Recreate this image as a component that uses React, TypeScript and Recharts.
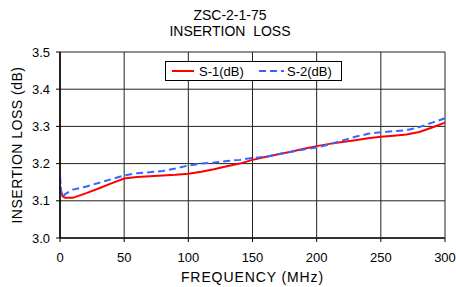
import { LineChart, Line, XAxis, YAxis, CartesianGrid, Label } from "recharts";

const frequency = [0, 1, 2, 4, 10, 20, 30, 40, 50, 60, 70, 80, 90, 100, 110, 120, 130, 140, 150, 160, 170, 180, 190, 200, 210, 220, 230, 240, 250, 260, 270, 280, 290, 300];
const s1 = [3.14, 3.125, 3.112, 3.108, 3.108, 3.12, 3.133, 3.147, 3.16, 3.164, 3.166, 3.168, 3.17, 3.173, 3.178, 3.185, 3.193, 3.2, 3.21, 3.218, 3.225, 3.232, 3.24, 3.247, 3.253, 3.258, 3.263, 3.268, 3.272, 3.275, 3.278, 3.285, 3.297, 3.31];
const s2 = [3.165, 3.12, 3.11, 3.118, 3.13, 3.138, 3.148, 3.158, 3.168, 3.174, 3.177, 3.18, 3.187, 3.195, 3.2, 3.203, 3.207, 3.21, 3.215, 3.218, 3.225, 3.232, 3.238, 3.243, 3.252, 3.262, 3.272, 3.28, 3.284, 3.287, 3.29, 3.298, 3.31, 3.322];
const xTicks = [0, 50, 100, 150, 200, 250, 300];
const yTicks = [3.0, 3.1, 3.2, 3.3, 3.4, 3.5];

const data = frequency.map((f, i) => ({ f, s1: s1[i], s2: s2[i] }));

const FONT = "'Liberation Sans', Arial, sans-serif";
const RED = "#ff0000";
const BLUE = "#3366ff";

function LegendBox() {
  return (
    <div
      style={{
        position: "absolute",
        left: 165,
        top: 61,
        width: 177,
        height: 20,
        boxSizing: "border-box",
        border: "1px solid #000",
        background: "#fff",
        display: "flex",
        alignItems: "center",
        fontFamily: FONT,
        fontSize: 13,
        color: "#000",
      }}
    >
      <svg width={31} height={18}>
        <line x1={6} y1={9} x2={28} y2={9} stroke={RED} strokeWidth={2} />
      </svg>
      <span style={{ marginLeft: 2, width: 58 }}>S-1(dB)</span>
      <svg width={30} height={18}>
        <line x1={2} y1={9} x2={27} y2={9} stroke={BLUE} strokeWidth={2} strokeDasharray="7 4" />
      </svg>
      <span>S-2(dB)</span>
    </div>
  );
}

export default function App() {
  return (
    <div style={{ position: "relative", width: 456, height: 287, background: "#fff", fontFamily: FONT }}>
      <style>{`body{margin:0}`}</style>
      <div
        style={{
          position: "absolute",
          left: 2,
          width: 456,
          top: 7,
          textAlign: "center",
          fontSize: 14,
          lineHeight: "16px",
          color: "#000",
          whiteSpace: "pre",
        }}
      >
        {"ZSC-2-1-75\nINSERTION  LOSS"}
      </div>
      <LineChart width={456} height={287} data={data} margin={{ top: 52, right: 11, left: 0, bottom: 19 }}>
        <CartesianGrid stroke="#222" strokeWidth={1} />
        <XAxis
          dataKey="f"
          type="number"
          domain={[0, 300]}
          ticks={xTicks}
          height={30}
          tick={{ fill: "#000", fontSize: 13, fontFamily: FONT }}
          tickSize={4}
          tickMargin={11}
          axisLine={{ stroke: "#333", strokeWidth: 2 }}
          tickLine={{ stroke: "#000" }}
        >
          <Label value="FREQUENCY (MHz)" position="insideBottom" offset={-14} fill="#000" fontSize={14} fontFamily={FONT} letterSpacing={0.9} />
        </XAxis>
        <YAxis
          type="number"
          domain={[3.0, 3.5]}
          ticks={yTicks}
          width={60}
          tickFormatter={(v: number) => v.toFixed(1)}
          tick={{ fill: "#000", fontSize: 13, fontFamily: FONT }}
          tickSize={4}
          tickMargin={6}
          axisLine={{ stroke: "#000", strokeWidth: 1.5 }}
          tickLine={{ stroke: "#000" }}
        >
          <Label value="INSERTION LOSS (dB)" angle={-90} position="insideLeft" offset={17} fill="#000" fontSize={14} fontFamily={FONT} letterSpacing={0.5} style={{ textAnchor: "middle" }} />
        </YAxis>
        <Line type="linear" dataKey="s1" name="S-1(dB)" stroke={RED} strokeWidth={2} dot={false} isAnimationActive={false} />
        <Line type="linear" dataKey="s2" name="S-2(dB)" stroke={BLUE} strokeWidth={2} strokeDasharray="7 4" dot={false} isAnimationActive={false} />
      </LineChart>
      <LegendBox />
    </div>
  );
}
